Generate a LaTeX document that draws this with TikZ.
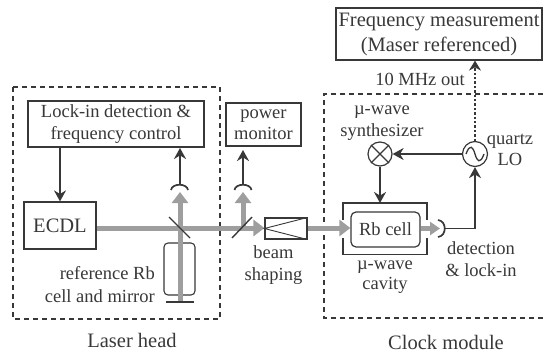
\documentclass[tikz,border=0pt]{standalone}
\usepackage{fontspec}
\setmainfont{Liberation Serif}
\usetikzlibrary{arrows,arrows.meta,positioning}
\definecolor{beamgray}{gray}{0.62}
\definecolor{inkgray}{gray}{0.22}
\tikzset{
  blockbox/.style={draw=inkgray,line width=1.2pt,align=center,inner sep=0pt,text=inkgray},
  notelabel/.style={align=center,inner sep=0pt,text=inkgray},
  bigtext/.style={font=\fontsize{20.5}{25}\selectfont},
  module/.style={draw=inkgray,line width=1.3pt,dash pattern=on 5pt off 4pt},
  sig/.style={draw=inkgray,line width=1.8pt,-{Stealth[length=11pt,width=12pt]}},
  beam/.style={draw=beamgray,line width=5pt},
  beamtip/.style={draw=beamgray,line width=5pt,-{Triangle[length=11pt,width=16pt]}},
  optic/.style={draw=inkgray,line width=1.4pt}
}
\begin{document}
\begin{tikzpicture}[x=1pt,y=-1pt,every node/.style={font=\fontsize{18.5}{22.5}\selectfont}]
	\useasboundingbox (0,0) rectangle (543,353);

	% modules
	\draw[module] (13,87) rectangle (220,319);
	\draw[module] (543,94) -- (324,94) -- (324,318) -- (543,318);

	% blocks
	\node[blockbox,minimum width=176pt,minimum height=46pt](lockin) at (116,124){Lock-in detection \&\\frequency control};
	\node[blockbox,bigtext,minimum width=72pt,minimum height=47pt](ecdl) at (60,225.5){ECDL};
	\node[blockbox,minimum width=75pt,minimum height=43pt,font=\fontsize{18.5}{21}\selectfont](power) at (263.5,124.5){power\\monitor};
	\node[blockbox,bigtext,minimum width=206pt,minimum height=52pt](freq) at (439,34){Frequency measurement\\(Maser referenced)};
	\node[blockbox,rounded corners=5pt,minimum width=69pt,minimum height=35pt](rbcell) at (385.5,229.5){Rb cell};
	\node[draw=inkgray,line width=1.1pt,rounded corners=4pt,minimum width=31pt,minimum height=52pt,inner sep=0pt](refcell) at (179.5,269){};
	\node[draw=inkgray,line width=1.1pt,minimum width=42pt,minimum height=21pt,inner sep=0pt](shaper) at (286,228.5){};
	\node[circle,draw=inkgray,line width=1.2pt,minimum size=24pt,inner sep=0pt](mixer) at (380,154){};
	\node[circle,draw=inkgray,line width=1.2pt,minimum size=25pt,inner sep=0pt](lo) at (475,154){};

	% named points on the optical path
	\coordinate (split1) at (180,228);
	\coordinate (split2) at (243,228);
	\coordinate (refend) at (180,302);
	\coordinate (det1) at (180,192);
	\coordinate (det2) at (243,192);
	\coordinate (det3) at (440,228.5);
	\coordinate (corner) at (475,228.5);

	% laser beam
	\draw[beam] (ecdl.east |- split1) -- (split2);
	\draw[beamtip] (split2) -- (shaper.west |- split2);
	\draw[beamtip,line width=5pt] (refend) -- (det1);
	\draw[beamtip] (split2) -- (det2);
	\draw[beamtip] (shaper.east |- split2) -- (rbcell.west |- split2);
	\draw[beamtip,-{Triangle[length=10pt,width=13pt]}] (rbcell.east |- det3) -- (det3);

	% optics
	\draw[optic] (169,217) -- (190,238);
	\draw[optic] (232,238) -- (252,217);
	\draw[line width=1.8pt,draw=inkgray] (166,302) -- (194,302);
	\draw[line width=0.9pt,draw=inkgray] (shaper.north east) -- (shaper.west) -- (shaper.south east);

	% detectors
	\draw[line width=1.7pt,draw=inkgray] (171,190) .. controls (172,183) and (187,183) .. (188,190);
	\draw[line width=1.7pt,draw=inkgray] (234.5,190) .. controls (235.5,183) and (250.5,183) .. (251.5,190);
	\draw[line width=1.7pt,draw=inkgray] (438,220) .. controls (447,221) and (447,236) .. (438,237);

	% cavity
	\draw[line width=1.1pt,draw=inkgray] (343,220) -- (343,203) -- (427,203) -- (427,220);
	\draw[line width=1.1pt,draw=inkgray] (343,238) -- (343,254.5) -- (427,254.5) -- (427,238);

	% signals
	\draw[sig] (lockin.south -| ecdl.north) -- (ecdl.north);
	\draw[sig] (180,185) -- (180,148);
	\draw[sig] (243,185) -- (243,150);
	\draw[sig] (lo) -- (mixer);
	\draw[sig] (mixer) -- (380,203);
	\draw[sig] (445,228.5) -- (corner) -- (lo);
	\draw[line width=2.4pt,draw=inkgray,dotted,-{Stealth[length=10pt,width=12pt]}] (lo) -- (freq.south -| lo);

	% symbols in the circles
	\draw[line width=1.1pt,draw=inkgray] (mixer.45) -- (mixer.225) (mixer.135) -- (mixer.315);
	\draw[line width=1.3pt,draw=inkgray] (466,154) .. controls (470,143) and (473,147) .. (475,154) .. controls (477,161) and (480,165) .. (484,154);

	% labels
	\node[notelabel,anchor=east,align=right](reflabel) at (155,284.5){reference Rb\\cell and mirror};
	\node[notelabel](shapelabel) at (273.5,265){beam\\shaping};
	\node[notelabel,font=\fontsize{18.5}{20.5}\selectfont](cavitylabel) at (385,277){µ-wave\\cavity};
	\node[notelabel](synthlabel) at (382,123){µ-wave\\synthesizer};
	\node[notelabel,font=\fontsize{18.5}{20.5}\selectfont](lolabel) at (510,150){quartz\\LO};
	\node[notelabel](detlabel) at (481,259){detection\\\& lock-in};
	\node[notelabel](outlabel) at (420,79){10 MHz out};
	\node[notelabel,bigtext](headlabel) at (132,340){Laser head};
	\node[notelabel,bigtext](clocklabel) at (446,342){Clock module};
\end{tikzpicture}
\end{document}
